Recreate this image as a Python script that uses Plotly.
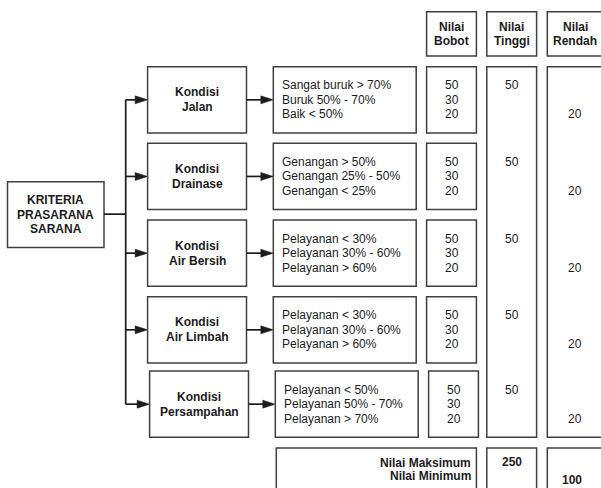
import plotly.graph_objects as go

# ---------------- data ----------------
root_label = ["KRITERIA", "PRASARANA", "SARANA"]
kondisi_top = ["Kondisi", "Kondisi", "Kondisi", "Kondisi", "Kondisi"]
kondisi_name = ["Jalan", "Drainase", "Air Bersih", "Air Limbah", "Persampahan"]
kriteria = [
    ["Sangat buruk > 70%", "Buruk 50% - 70%", "Baik < 50%"],
    ["Genangan > 50%", "Genangan 25% - 50%", "Genangan < 25%"],
    ["Pelayanan < 30%", "Pelayanan 30% - 60%", "Pelayanan > 60%"],
    ["Pelayanan < 30%", "Pelayanan 30% - 60%", "Pelayanan > 60%"],
    ["Pelayanan < 50%", "Pelayanan 50% - 70%", "Pelayanan > 70%"],
]
nilai_bobot = [
    [50, 30, 20],
    [50, 30, 20],
    [50, 30, 20],
    [50, 30, 20],
    [50, 30, 20],
]
nilai_tinggi = [50, 50, 50, 50, 50]
nilai_rendah = [20, 20, 20, 20, 20]
header_labels = [["Nilai", "Bobot"], ["Nilai", "Tinggi"], ["Nilai", "Rendah"]]
total_labels = ["Nilai Maksimum", "Nilai Minimum"]
total_values = [250, 100]

# ---------------- layout constants ----------------
W, H = 601, 488
ROW_TOP = [66.7, 143.3, 220.0, 296.7, 371.0]
ROW_H = 66.3
ROW_DX = [0, 0, 0, 0, 2]
LINE = 14.5
KX = (147.6, 246.5)      # kondisi box
CX = (273.3, 416.2)      # kriteria box
BX = (426.6, 476.4)      # bobot box
TX = (486.8, 536.6)      # tinggi column
RX = (547.3, 612.0)      # rendah column
HDR = (11.7, 56.0)
ROOT = (7.5, 104.0, 181.8, 247.5)
SPINE_X = 125.7
TOT_Y = (448.0, 500.0)

EDGE = "#404040"
INK = "#1c1c1c"
FONT = "Liberation Sans, Arial, sans-serif"

shapes = []
annotations = []


def box(x0, x1, y0, y1):
    shapes.append(dict(type="rect", xref="x", yref="y", x0=x0, x1=x1, y0=y0, y1=y1,
                       line=dict(color=EDGE, width=1.5), fillcolor="rgba(0,0,0,0)"))


def line(x0, y0, x1, y1):
    shapes.append(dict(type="line", xref="x", yref="y", x0=x0, x1=x1, y0=y0, y1=y1,
                       line=dict(color=INK, width=1.7)))


def arrow(x0, x1, y):
    line(x0, y, x1 - 10, y)
    shapes.append(dict(type="path", xref="x", yref="y",
                       path=f"M {x1},{y} L {x1-12.5},{y-4} L {x1-12.5},{y+4} Z",
                       fillcolor=INK, line=dict(color=INK, width=0.5)))


def text(x, y, s, bold=False, anchor="center", size=12):
    annotations.append(dict(x=x, y=y, xref="x", yref="y", text=f"<b>{s}</b>" if bold else str(s),
                            showarrow=False, xanchor=anchor, yanchor="middle",
                            font=dict(family=FONT, size=size, color=INK)))


# headers
for (l1, l2), (x0, x1) in zip(header_labels, [BX, TX, RX]):
    box(x0, x1, HDR[0], HDR[1])
    cx = (x0 + min(x1, 603)) / 2
    mid = (HDR[0] + HDR[1]) / 2
    text(cx, mid - 7.3, l1, bold=True)
    text(cx, mid + 7.3, l2, bold=True)

# root box
box(ROOT[0], ROOT[1], ROOT[2], ROOT[3])
root_mid = (ROOT[2] + ROOT[3]) / 2
for i, s in enumerate(root_label):
    text((ROOT[0] + ROOT[1]) / 2, root_mid + (i - 1) * 14.7, s, bold=True)
line(ROOT[1], root_mid - 0.5, SPINE_X, root_mid - 0.5)

# spine
centers = [t + ROW_H / 2 for t in ROW_TOP]
line(SPINE_X, centers[0], SPINE_X, centers[-1])

# tall columns
box(TX[0], TX[1], ROW_TOP[0], ROW_TOP[-1] + ROW_H)
box(RX[0], RX[1], ROW_TOP[0], ROW_TOP[-1] + ROW_H)

for i in range(len(kondisi_name)):
    top = ROW_TOP[i]
    c = centers[i]
    dx = ROW_DX[i]
    arrow(SPINE_X, KX[0] + dx, c)
    box(KX[0] + dx, KX[1] + dx, top, top + ROW_H)
    text((KX[0] + KX[1]) / 2 + dx, c - 7.5, kondisi_top[i], bold=True)
    text((KX[0] + KX[1]) / 2 + dx, c + 7.5, kondisi_name[i], bold=True)
    arrow(KX[1] + dx, CX[0] + dx, c)
    box(CX[0] + dx, CX[1] + dx, top, top + ROW_H)
    box(BX[0] + dx, BX[1] + dx, top, top + ROW_H)
    for j in range(3):
        yy = c + (j - 1) * LINE
        text(CX[0] + dx + 6.5, yy, kriteria[i][j], anchor="left")
        text((BX[0] + BX[1]) / 2 + dx, yy, nilai_bobot[i][j])
    text((TX[0] + TX[1]) / 2, c - LINE, nilai_tinggi[i])
    text(575, c + LINE, nilai_rendah[i])

# totals
box(CX[0] + 3, BX[1], TOT_Y[0], TOT_Y[1])
box(TX[0], TX[1], TOT_Y[0], TOT_Y[1])
box(RX[0], RX[1], TOT_Y[0], TOT_Y[1])
text(BX[1] - 3, 463.0, total_labels[0], bold=True, anchor="right")
text(BX[1] - 3, 476.0, total_labels[1], bold=True, anchor="right")
text((TX[0] + TX[1]) / 2, 462.0, total_values[0], bold=True)
text(572, 480.0, total_values[1], bold=True)

fig = go.Figure()
fig.add_trace(go.Scatter(x=[0, W], y=[0, H], mode="markers", marker=dict(opacity=0),
                         hoverinfo="skip", showlegend=False))
fig.update_layout(
    width=W, height=H, margin=dict(l=0, r=0, t=0, b=0),
    paper_bgcolor="white", plot_bgcolor="white",
    xaxis=dict(range=[0, W], visible=False, fixedrange=True),
    yaxis=dict(range=[H, 0], visible=False, fixedrange=True),
    shapes=shapes, annotations=annotations, showlegend=False,
)
fig.write_html("out.html", config={"displayModeBar": False},
               post_script="document.body.style.margin='0px';document.body.style.overflow='hidden';")
